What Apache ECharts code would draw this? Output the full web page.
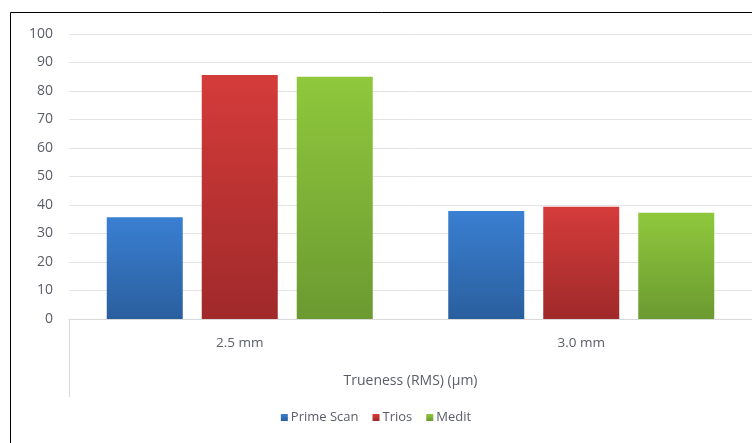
<!DOCTYPE html>
<html>
<head>
<meta charset="utf-8">
<title>Trueness chart</title>
<script src="https://cdn.jsdelivr.net/npm/echarts@6/dist/echarts.min.js"></script>
<style>
  html, body { margin: 0; padding: 0; background: #fff; }
  #chart { width: 752px; height: 443px; }
</style>
</head>
<body>
<div id="chart"></div>
<script>
// data
var categories = ['2.5 mm', '3.0 mm'];
var primeScan = [35.7, 37.9];
var trios = [85.6, 39.4];
var medit = [85.0, 37.3];
var yTicks = [0, 10, 20, 30, 40, 50, 60, 70, 80, 90, 100];

function grad(top, bottom) {
    return new echarts.graphic.LinearGradient(0, 0, 0, 1, [
        { offset: 0, color: top },
        { offset: 1, color: bottom }
    ]);
}

var textColor = '#5a5d66';
var font = 'Open Sans, Liberation Sans, sans-serif';

var myChart = echarts.init(document.getElementById('chart'));
myChart.setOption({
    animation: false,
    color: ['#3465a8', '#b83232', '#79aa36'],
    textStyle: { fontFamily: font },
    grid: { left: 69, right: 0, top: 34, bottom: 124 },
    legend: {
        bottom: 14,
        left: 'center',
        itemWidth: 7,
        itemHeight: 7,
        itemGap: 14,
        icon: 'rect',
        textStyle: { color: textColor, fontSize: 13, fontFamily: font, padding: [0, 0, 0, -2] },
        data: ['Prime Scan', 'Trios', 'Medit']
    },
    xAxis: {
        type: 'category',
        data: categories,
        name: 'Trueness (RMS) (μm)',
        nameLocation: 'middle',
        nameGap: 55,
        nameTextStyle: { color: textColor, fontSize: 14, fontFamily: font },
        axisLine: { lineStyle: { color: '#d9d9d9' } },
        axisTick: { show: false },
        axisLabel: { color: textColor, fontSize: 13.5, margin: 17 }
    },
    yAxis: {
        type: 'value',
        min: yTicks[0],
        max: yTicks[yTicks.length - 1],
        interval: 10,
        axisLine: { show: false },
        axisTick: { show: false },
        axisLabel: { color: textColor, fontSize: 14, margin: 16 },
        splitLine: { lineStyle: { color: '#e3e3e3' } }
    },
    series: [{
        name: 'Prime Scan',
        type: 'bar',
        data: primeScan,
        barWidth: 76,
        barGap: '25%',
        itemStyle: { color: grad('#3a7fd2', '#2a5f9e') }
    }, {
        name: 'Trios',
        type: 'bar',
        data: trios,
        barWidth: 76,
        barGap: '25%',
        itemStyle: { color: grad('#d43c3a', '#a0292a') }
    }, {
        name: 'Medit',
        type: 'bar',
        data: medit,
        barWidth: 76,
        barGap: '25%',
        itemStyle: { color: grad('#8fc83c', '#6b9a31') }
    }],
    graphic: [{
        type: 'rect',
        shape: { x: 10.5, y: 12.5, width: 800, height: 500 },
        style: { fill: 'none', stroke: '#000', lineWidth: 1 },
        silent: true
    }, {
        type: 'line',
        shape: { x1: 69.5, y1: 319, x2: 69.5, y2: 397 },
        style: { stroke: '#d9d9d9', lineWidth: 1 },
        silent: true
    }]
});
</script>
</body>
</html>
